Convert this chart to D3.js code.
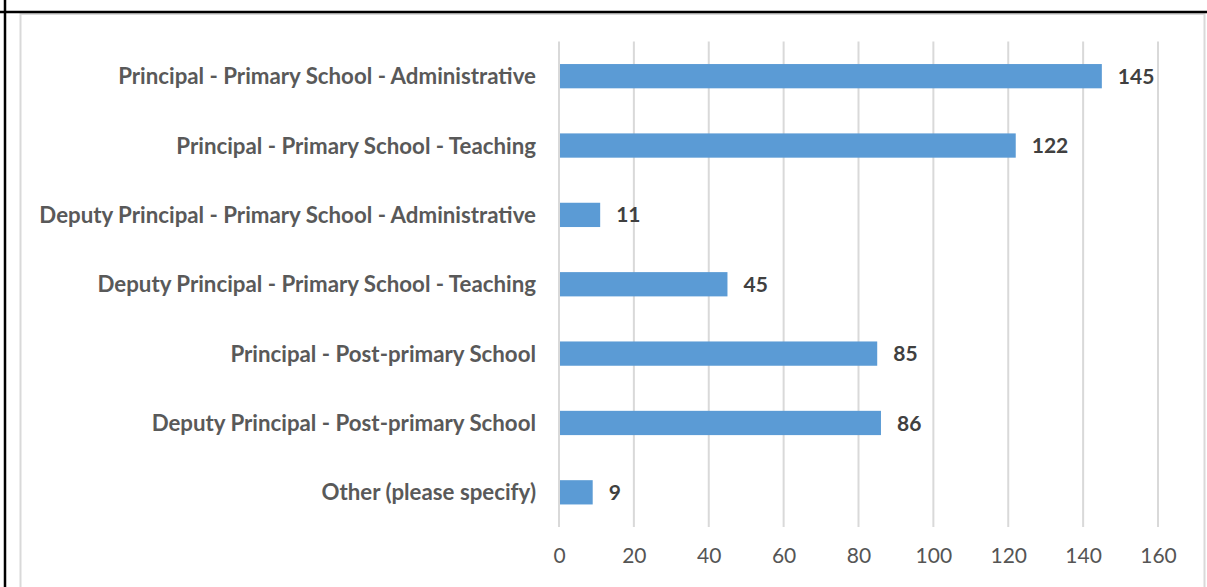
<!DOCTYPE html>
<html>
<head>
<meta charset="utf-8">
<script src="https://cdn.jsdelivr.net/npm/d3@7"></script>
<style>
  body { margin: 0; background: #fff; }
  svg { display: block; }
  .cat { font-family: Lato, "Open Sans", sans-serif; font-weight: bold; fill: #595959; }
  .tick text { font-family: Lato, "Open Sans", sans-serif; fill: #555; }
  .val { font-family: Lato, "Open Sans", sans-serif; font-weight: bold; fill: #404040; }
</style>
</head>
<body>
<svg id="chart" width="1207" height="587"></svg>
<script>
// data
const categories = [
  "Principal - Primary School - Administrative",
  "Principal - Primary School - Teaching",
  "Deputy Principal - Primary School - Administrative",
  "Deputy Principal - Primary School - Teaching",
  "Principal - Post-primary School",
  "Deputy Principal - Post-primary School",
  "Other (please specify)"
];
const counts = [145, 122, 11, 45, 85, 86, 9];
const xTicks = [0, 20, 40, 60, 80, 100, 120, 140, 160];

const W = 1207, H = 587;
const svg = d3.select('#chart');

//-------------------------------------------------------------------------------
// outer frame: black page border plus the light chart border

svg.append('rect')
    .attr('x', 20.5).attr('y', 14).attr('width', 1184).attr('height', 600)
    .attr('fill', 'none').attr('stroke', '#d9d9d9').attr('stroke-width', 2);

svg.append('line').attr('x1', 0).attr('x2', W).attr('y1', 12).attr('y2', 12)
    .attr('stroke', '#000').attr('stroke-width', 2.5);
svg.append('line').attr('x1', 5).attr('x2', 5).attr('y1', 0).attr('y2', H)
    .attr('stroke', '#000').attr('stroke-width', 2.5);

//-------------------------------------------------------------------------------

const plot = { left: 559, right: 1158, top: 41.5, bottom: 527 };

const x = d3.scaleLinear().domain([0, 160]).range([plot.left, plot.right]);
const y = d3.scaleBand().domain(categories).range([plot.top, plot.bottom]).paddingInner(0.65).paddingOuter(0.325);

// gridlines (also the zero line)
svg.append('g')
  .selectAll('line')
  .data(xTicks)
  .join('line')
    .attr('x1', d => x(d)).attr('x2', d => x(d))
    .attr('y1', plot.top).attr('y2', plot.bottom)
    .attr('stroke', '#d9d9d9').attr('stroke-width', 2);

// x axis labels through d3.axisBottom, with the domain and ticks hidden
const gx = svg.append('g')
    .attr('transform', `translate(0,${plot.bottom})`)
    .call(d3.axisBottom(x).tickValues(xTicks).tickSize(0).tickPadding(21));
gx.select('.domain').remove();
gx.selectAll('.tick text').attr('font-size', 21);

// bars
svg.append('g')
  .selectAll('rect')
  .data(counts)
  .join('rect')
    .attr('x', x(0) + 1)
    .attr('y', (d, i) => y(categories[i]))
    .attr('width', d => x(d) - x(0) - 1)
    .attr('height', y.bandwidth())
    .attr('fill', '#5b9bd5');

// value labels
svg.append('g')
  .selectAll('text')
  .data(counts)
  .join('text')
    .attr('class', 'val')
    .attr('x', d => x(d) + 16)
    .attr('y', (d, i) => y(categories[i]) + y.bandwidth() / 2)
    .attr('dy', '0.36em')
    .attr('font-size', 21)
    .text(d => d);

// category labels, sized so the longest one spans the same width as in the reference
const cats = svg.append('g')
  .selectAll('text')
  .data(categories)
  .join('text')
    .attr('class', 'cat')
    .attr('x', 536)
    .attr('y', d => y(d) + y.bandwidth() / 2)
    .attr('dy', '0.36em')
    .attr('text-anchor', 'end')
    .attr('font-size', 18)
    .text(d => d);

const longest = d3.max(cats.nodes(), n => n.getComputedTextLength());
cats.attr('font-size', 18 * 497 / longest);
</script>
</body>
</html>
